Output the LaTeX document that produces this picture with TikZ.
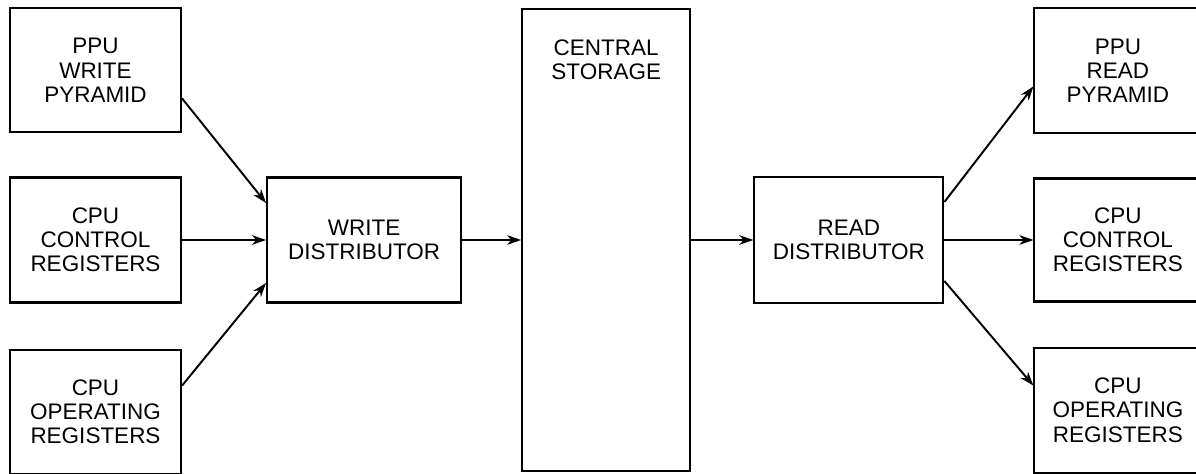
\documentclass[tikz,border=0pt]{standalone}
\usepackage{fontspec}
\setmainfont{Liberation Sans}
\usepackage{tikz}
\usetikzlibrary{arrows.meta, positioning}
\tikzset{
  unit/.style={
    rectangle, draw=black, line width=1.2pt, align=center,
    minimum width=3.4cm, minimum height=2.5cm, inner sep=2pt,
    font=\fontsize{12.8}{13.8}\selectfont
  },
  store/.style={
    rectangle, draw=black, line width=1.2pt,
    minimum width=3.36cm, minimum height=9.24cm
  },
  arrow/.style={-{Stealth[length=8pt, width=5.5pt, inset=2.5pt]}, line width=1.1pt}
}

\begin{document}
\begin{tikzpicture}
  \useasboundingbox (0,0) rectangle (23.92,9.46);

  % write side
  \node[unit, minimum width=3.42cm] (ccr) at (1.91,4.66) {CPU\\CONTROL\\REGISTERS};
  \node[unit, minimum width=3.42cm, minimum height=2.48cm, above=0.86cm of ccr] (pwp)
    {PPU\\WRITE\\PYRAMID};
  \node[unit, minimum width=3.42cm, minimum height=2.48cm, below=0.9cm of ccr] (cor)
    {CPU\\OPERATING\\REGISTERS};
  \node[unit, minimum width=3.88cm, right=1.68cm of ccr] (wd) {WRITE\\DISTRIBUTOR};

  % storage
  \node[store, right=1.18cm of wd] (cs) {};
  \node[below=0.62cm of cs.north, align=center, inner sep=0pt,
    font=\fontsize{12.8}{13.8}\selectfont] (cstext) {CENTRAL\\STORAGE};

  % read side
  \node[unit, minimum width=3.78cm, minimum height=2.52cm, right=1.24cm of cs] (rd)
    {READ\\DISTRIBUTOR};
  \node[unit, minimum width=3.34cm, minimum height=2.46cm, right=1.78cm of rd] (rcr)
    {CPU\\CONTROL\\REGISTERS};
  \node[unit, minimum width=3.34cm, above=0.86cm of rcr] (prp) {PPU\\READ\\PYRAMID};
  \node[unit, minimum width=3.34cm, below=0.88cm of rcr] (ror) {CPU\\OPERATING\\REGISTERS};

  \draw[arrow] ([yshift=-0.56cm]pwp.east) -- ([yshift=0.74cm]wd.west);
  \draw[arrow] (ccr.east) -- (wd.west);
  \draw[arrow] ([yshift=0.52cm]cor.east) -- ([yshift=-0.86cm]wd.west);
  \draw[arrow] (wd.east) -- (cs.west |- wd.east);
  \draw[arrow] (cs.east |- rd.west) -- (rd.west);
  \draw[arrow] ([yshift=0.76cm]rd.east) -- ([yshift=-0.31cm]prp.west);
  \draw[arrow] (rd.east) -- (rcr.west);
  \draw[arrow] ([yshift=-0.82cm]rd.east) -- ([yshift=0.49cm]ror.west);
\end{tikzpicture}
\end{document}
